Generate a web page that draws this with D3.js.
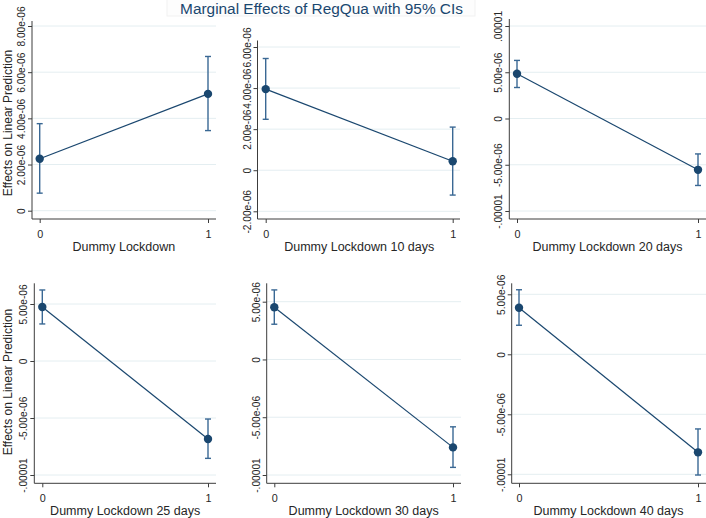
<!DOCTYPE html>
<html>
<head>
<meta charset="utf-8">
<script src="https://cdn.jsdelivr.net/npm/d3@7"></script>
<style>
  html, body { margin: 0; padding: 0; background: #ffffff; }
  svg { display: block; font-family: "Liberation Sans", Arial, sans-serif; }
</style>
</head>
<body>
<svg id="chart" width="706" height="518"></svg>
<script>
// ---------------- data ----------------
const chartTitle = "Marginal Effects of RegQua with 95% CIs";
const yTitle = "Effects on Linear Prediction";
const categories = [0, 1];
const xTitles = ["Dummy Lockdown", "Dummy Lockdown 10 days", "Dummy Lockdown 20 days",
                 "Dummy Lockdown 25 days", "Dummy Lockdown 30 days", "Dummy Lockdown 40 days"];

const est1 = [2.25e-6, 5.06e-6],  lo1 = [0.76e-6, 3.47e-6],  hi1 = [3.77e-6, 6.68e-6];
const est2 = [3.95e-6, 0.44e-6],  lo2 = [2.48e-6, -1.21e-6], hi2 = [5.44e-6, 2.10e-6];
const est3 = [4.83e-6, -5.55e-6], lo3 = [3.35e-6, -7.24e-6], hi3 = [6.28e-6, -3.83e-6];
const est4 = [4.74e-6, -6.84e-6], lo4 = [3.25e-6, -8.54e-6], hi4 = [6.23e-6, -5.09e-6];
const est5 = [4.52e-6, -7.61e-6], lo5 = [3.05e-6, -9.34e-6], hi5 = [6.02e-6, -5.83e-6];
const est6 = [3.88e-6, -8.17e-6], lo6 = [2.42e-6, -10.06e-6], hi6 = [5.38e-6, -6.22e-6];

const ticksA = [0, 2e-6, 4e-6, 6e-6, 8e-6];
const labelsA = ["0", "2.00e-06", "4.00e-06", "6.00e-06", "8.00e-06"];
const ticksB = [-2e-6, 0, 2e-6, 4e-6, 6e-6];
const labelsB = ["-2.00e-06", "0", "2.00e-06", "4.00e-06", "6.00e-06"];
const ticksC = [-1e-5, -5e-6, 0, 5e-6, 1e-5];
const labelsC = ["-.00001", "-5.00e-06", "0", "5.00e-06", ".00001"];
const ticksD = [-1e-5, -5e-6, 0, 5e-6];
const labelsD = ["-.00001", "-5.00e-06", "0", "5.00e-06"];

// ---------------- layout (pixels only) ----------------
const panels = [
  {est: est1, lo: lo1, hi: hi1, ticks: ticksA, labels: labelsA, ax: 32,    by: 219,   ty: 21,    rx: 216, yd: [0, 8e-6],     yr: [210.7, 26],    xr: [39.7, 208],  yTitleY: 123},
  {est: est2, lo: lo2, hi: hi2, ticks: ticksB, labels: labelsB, ax: 257.5, by: 219,   ty: 40.5,  rx: 460, yd: [-2e-6, 6e-6],  yr: [211.3, 47],    xr: [265.7, 452.7]},
  {est: est3, lo: lo3, hi: hi3, ticks: ticksC, labels: labelsC, ax: 509.3, by: 219,   ty: 19,    rx: 706, yd: [-1e-5, 1e-5],  yr: [211, 26],      xr: [517, 698]},
  {est: est4, lo: lo4, hi: hi4, ticks: ticksD, labels: labelsD, ax: 34.3,  by: 483.3, ty: 283.3, rx: 216, yd: [-1e-5, 5e-6],  yr: [475, 304],     xr: [42.3, 208],  yTitleY: 382},
  {est: est5, lo: lo5, hi: hi5, ticks: ticksD, labels: labelsD, ax: 266.7, by: 483.3, ty: 283.3, rx: 461, yd: [-1e-5, 5e-6],  yr: [475, 301.7],   xr: [274.3, 453]},
  {est: est6, lo: lo6, hi: hi6, ticks: ticksD, labels: labelsD, ax: 511.7, by: 483.3, ty: 283.3, rx: 706, yd: [-1e-5, 5e-6],  yr: [474.3, 294.3], xr: [519, 698]}
];

const navy = "#1a476f";
const ciColor = "#3a6894";
const gridColor = "#e4eef1";
const axisColor = "#3c3c3c";
const textColor = "#262626";
const fontFam = '"Liberation Sans", Arial, sans-serif';

const svg = d3.select("#chart");

// title with faint box
svg.append("rect").attr("x", 167).attr("y", -1).attr("width", 308).attr("height", 17)
  .attr("fill", "#fdfdfd").attr("stroke", "#f1f1f1");
svg.append("text").attr("x", 321.5).attr("y", 14).attr("text-anchor", "middle")
  .attr("font-size", "15.4px").attr("fill", navy).text(chartTitle);

panels.forEach((p, i) => {
  const g = svg.append("g");
  const y = d3.scaleLinear().domain(p.yd).range(p.yr);
  const x = d3.scaleLinear().domain([0, 1]).range(p.xr);

  // gridlines
  g.selectAll("line.grid").data(p.ticks).enter().append("line")
    .attr("x1", p.ax).attr("x2", p.rx)
    .attr("y1", d => y(d)).attr("y2", d => y(d))
    .attr("stroke", gridColor).attr("stroke-width", 1);

  // y axis
  const yAxis = d3.axisLeft(y).tickValues(p.ticks).tickSize(4).tickSizeOuter(0)
    .tickFormat((d, k) => p.labels[k]);
  const ya = g.append("g").attr("transform", `translate(${p.ax},0)`).call(yAxis);
  ya.select(".domain").remove();
  ya.selectAll(".tick line").attr("stroke", axisColor);
  ya.selectAll(".tick text")
    .attr("transform", "rotate(-90)")
    .attr("x", 0).attr("y", -7).attr("dy", 0)
    .attr("text-anchor", "middle")
    .attr("font-size", "10.2px").attr("fill", textColor)
    .attr("font-family", fontFam);
  g.append("line").attr("x1", p.ax).attr("x2", p.ax).attr("y1", p.ty).attr("y2", p.by)
    .attr("stroke", axisColor).attr("stroke-width", 1);

  // x axis
  const xAxis = d3.axisBottom(x).tickValues(categories).tickSize(4).tickSizeOuter(0)
    .tickFormat(d3.format("d"));
  const xa = g.append("g").attr("transform", `translate(0,${p.by})`).call(xAxis);
  xa.select(".domain").remove();
  xa.selectAll(".tick line").attr("stroke", axisColor);
  xa.selectAll(".tick text").attr("y", 19).attr("dy", 0)
    .attr("font-size", "10.8px").attr("fill", textColor)
    .attr("font-family", fontFam);
  g.append("line").attr("x1", p.ax).attr("x2", p.rx).attr("y1", p.by).attr("y2", p.by)
    .attr("stroke", axisColor).attr("stroke-width", 1);

  // x title
  g.append("text").attr("x", (x(0) + x(1)) / 2).attr("y", p.by + 31.7)
    .attr("text-anchor", "middle").attr("font-size", "12.5px").attr("fill", textColor)
    .text(xTitles[i]);

  // y title (left column only)
  if (p.yTitleY !== undefined) {
    g.append("text").attr("transform", `translate(12,${p.yTitleY}) rotate(-90)`)
      .attr("text-anchor", "middle").attr("font-size", "12px").attr("fill", textColor)
      .text(yTitle);
  }

  // CI bars with caps
  categories.forEach((c, k) => {
    const cx = x(c);
    g.append("line").attr("x1", cx).attr("x2", cx).attr("y1", y(p.lo[k])).attr("y2", y(p.hi[k]))
      .attr("stroke", ciColor).attr("stroke-width", 1.4);
    [p.lo[k], p.hi[k]].forEach(v => {
      g.append("line").attr("x1", cx - 3).attr("x2", cx + 3).attr("y1", y(v)).attr("y2", y(v))
        .attr("stroke", ciColor).attr("stroke-width", 1.4);
    });
  });

  // connecting line
  const line = d3.line().x((d, k) => x(categories[k])).y(d => y(d));
  g.append("path").datum(p.est).attr("d", line).attr("fill", "none")
    .attr("stroke", navy).attr("stroke-width", 1.2);

  // markers
  g.selectAll("circle").data(p.est).enter().append("circle")
    .attr("cx", (d, k) => x(categories[k])).attr("cy", d => y(d)).attr("r", 4.2)
    .attr("fill", navy);
});
</script>
</body>
</html>
